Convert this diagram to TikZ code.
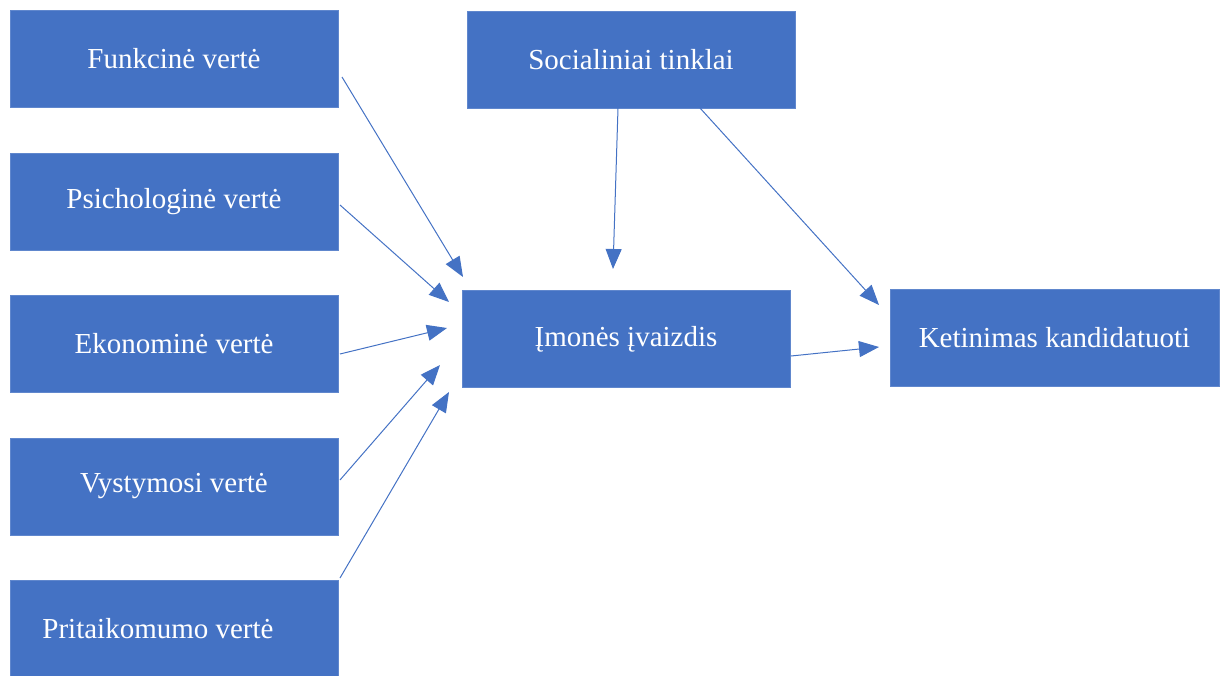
\documentclass[tikz,border=0pt]{standalone}
\usepackage{fontspec}
\setmainfont{Liberation Serif}
\usetikzlibrary{arrows.meta}
\definecolor{boxblue}{HTML}{4472C4}
\tikzset{
  vbox/.style={fill=boxblue, draw=boxblue!85!white, line width=0.6pt, minimum width=328pt,
    minimum height=97pt, inner sep=0pt, text=white, font=\fontsize{29}{34}\selectfont},
  link/.style={draw=boxblue, line width=1pt, -{Triangle[length=20pt,width=16pt]}}
}
\begin{document}
\begin{tikzpicture}[x=1pt,y=-1pt]
\useasboundingbox (0,0) rectangle (1224,675);
% value boxes on the left
\node[vbox] (fun) at (174,58.5) {Funkcinė vertė};
\node[vbox] (psi) at (174,201.5) {Psichologinė vertė};
\node[vbox] (eko) at (174,344) {Ekonominė vertė};
\node[vbox] (vys) at (174,486.5) {Vystymosi vertė};
\node[vbox] (pri) at (174,628.5) {\hspace*{-32pt}Pritaikomumo vertė};
% central and right boxes
\node[vbox] (soc) at (631,59.5) {Socialiniai tinklai};
\node[vbox] (img) at (626,339) {Įmonės įvaizdis};
\node[vbox, minimum width=329pt] (ket) at (1054.5,338) {Ketinimas kandidatuoti};
% arrow end points
\coordinate (funS) at (342,77);   \coordinate (funE) at (463,277);
\coordinate (psiS) at (340,205);  \coordinate (psiE) at (449,302);
\coordinate (ekoS) at (340,354);  \coordinate (ekoE) at (447,328);
\coordinate (vysS) at (340,480);  \coordinate (vysE) at (440,365);
\coordinate (priS) at (340,578);  \coordinate (priE) at (449,392);
\coordinate (socS) at (618,108);  \coordinate (socE) at (613,269);
\coordinate (socS2) at (700,108); \coordinate (socE2) at (879,305);
\coordinate (imgS) at (791,356);  \coordinate (imgE) at (879,347);
% connectors
\draw[link] (funS) -- (funE);
\draw[link] (psiS) -- (psiE);
\draw[link] (ekoS) -- (ekoE);
\draw[link] (vysS) -- (vysE);
\draw[link] (priS) -- (priE);
\draw[link] (socS) -- (socE);
\draw[link] (socS2) -- (socE2);
\draw[link] (imgS) -- (imgE);
\end{tikzpicture}
\end{document}
